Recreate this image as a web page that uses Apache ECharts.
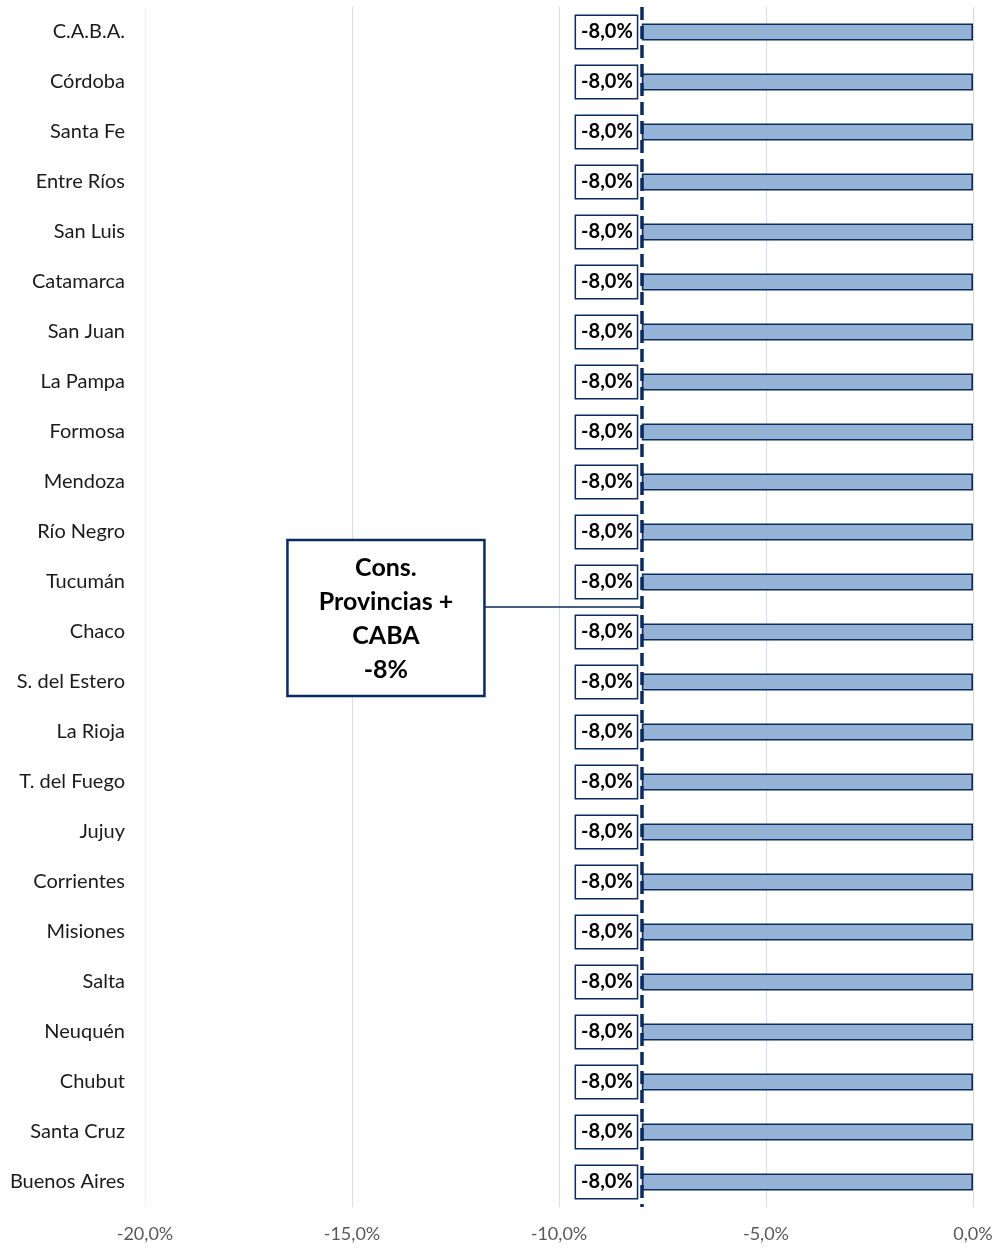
<!DOCTYPE html>
<html>
<head>
<meta charset="utf-8">
<script src="https://cdn.jsdelivr.net/npm/echarts@6/dist/echarts.min.js"></script>
<style>
html,body{margin:0;padding:0;background:#fff;}
#chart{width:1001px;height:1248px;}
</style>
</head>
<body>
<div id="chart"></div>
<script>
const provinces = ["C.A.B.A.","Córdoba","Santa Fe","Entre Ríos","San Luis","Catamarca","San Juan","La Pampa","Formosa","Mendoza","Río Negro","Tucumán","Chaco","S. del Estero","La Rioja","T. del Fuego","Jujuy","Corrientes","Misiones","Salta","Neuquén","Chubut","Santa Cruz","Buenos Aires"];
const values = [-8.0,-8.0,-8.0,-8.0,-8.0,-8.0,-8.0,-8.0,-8.0,-8.0,-8.0,-8.0,-8.0,-8.0,-8.0,-8.0,-8.0,-8.0,-8.0,-8.0,-8.0,-8.0,-8.0,-8.0];
const consolidated = -8;
const annotationText = "Cons.\nProvincias +\nCABA\n-8%";
const xTicks = [-20,-15,-10,-5,0];

const NAVY = '#0b2a5e';
const FONT = 'Lato, "Open Sans", sans-serif';
const fmt = v => v.toFixed(1).replace('.', ',') + '%';

const chart = echarts.init(document.getElementById('chart'));
chart.setOption({
  animation: false,
  backgroundColor: '#fff',
  grid: {left: 145, right: 28, top: 7, bottom: 41, containLabel: false},
  xAxis: {
    type: 'value', min: xTicks[0], max: xTicks[xTicks.length-1], interval: 5,
    axisLine: {show: false}, axisTick: {show: false},
    axisLabel: {formatter: v => fmt(v), color: '#595959', fontSize: 18, fontFamily: FONT, margin: 18},
    splitLine: {show: true, lineStyle: {color: ['#f0f0f0','#d5dfee','#d5dfee','#d5dfee','#d9d9d9'], width: 1.2}}
  },
  yAxis: {
    type: 'category', data: provinces, inverse: true,
    axisLine: {show: false}, axisTick: {show: false},
    axisLabel: {color: '#1a1a1a', fontSize: 20, fontFamily: FONT, margin: 20}
  },
  series: [{
    type: 'bar', data: values, barWidth: 17,
    itemStyle: {color: '#95b3d7', borderColor: NAVY, borderWidth: 1.6},
    label: {
      show: true, position: 'left', distance: 5,
      formatter: p => fmt(p.value),
      fontFamily: FONT, fontSize: 20, fontWeight: 'bold', color: '#000',
      backgroundColor: '#fff', borderColor: NAVY, borderWidth: 1.5,
      padding: [7, 4, 5, 5]
    },
    markLine: {
      silent: true, symbol: 'none', z: 10,
      label: {show: false},
      lineStyle: {color: NAVY, width: 3.5, type: [13, 6]},
      data: [{xAxis: consolidated}]
    }
  }]
});

// annotation box positioned via axis scales
const xLine = chart.convertToPixel({xAxisIndex: 0}, consolidated);
const y11 = chart.convertToPixel({yAxisIndex: 0}, provinces[11]);
const y12 = chart.convertToPixel({yAxisIndex: 0}, provinces[12]);
const yMid = (y11 + y12) / 2;
const boxCx = chart.convertToPixel({xAxisIndex: 0}, -14.18);
const boxW = 197, boxH = 156;
chart.setOption({
  graphic: [
    {type: 'line', z: 20, shape: {x1: boxCx + boxW/2, y1: yMid, x2: xLine, y2: yMid}, style: {stroke: NAVY, lineWidth: 1.5}},
    {type: 'rect', z: 20, shape: {x: boxCx - boxW/2, y: yMid - 67, width: boxW, height: boxH}, style: {fill: '#fff', stroke: NAVY, lineWidth: 2.5}},
    {type: 'text', z: 21, x: boxCx, y: yMid - 67 + boxH/2 + 1, style: {text: annotationText, fontFamily: FONT, fontSize: 25, fontWeight: 'bold', fill: '#000', align: 'center', verticalAlign: 'middle', lineHeight: 34}}
  ]
});
</script>
</body>
</html>
